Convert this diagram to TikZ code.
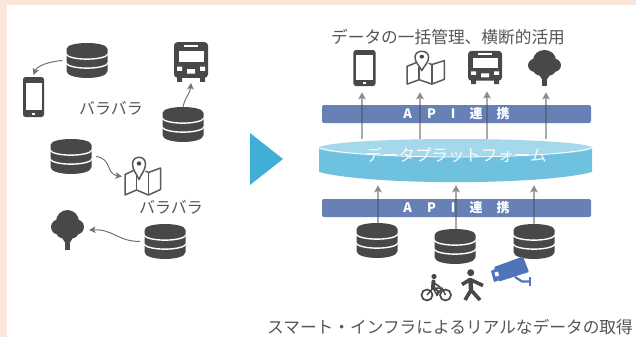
\documentclass[tikz,border=0pt]{standalone}
\usepackage{fontspec}
\setmainfont{Noto Sans CJK JP}
\usetikzlibrary{arrows.meta,calc}
\definecolor{peach}{HTML}{FBE6DA}
\definecolor{ink}{HTML}{484848}
\definecolor{txt}{HTML}{555555}
\definecolor{barblue}{HTML}{6780B5}
\definecolor{camblue}{HTML}{4F74B8}
\definecolor{tri}{HTML}{3FAFD6}
\definecolor{cyl}{HTML}{6FC2DF}
\definecolor{cyltop}{HTML}{A5D8EA}
\tikzset{
  box/.style={inner sep=0,outer sep=0,draw=none},
  caption/.style={inner sep=0,text=txt,font=\fontsize{16.7}{18}\selectfont},
  scatter/.style={inner sep=0,text=txt,font=\fontsize{16}{18}\selectfont},
  apibar/.style={box,fill=barblue,rounded corners=2,minimum width=269,minimum height=18,text=white,font=\fontsize{13}{15}\selectfont\bfseries},
  platlabel/.style={inner sep=0,text=white,opacity=.9,font=\fontsize{16.5}{18}\selectfont},
  flow/.style={draw=black!70,opacity=.48,line width=1.3,-{Stealth[length=7.5,width=8,inset=1.5]}},
  curve/.style={draw=black!55,line width=1,-{Stealth[length=6.5,width=6.5,inset=1.5]}},
  mapline/.style={draw=ink!90,line width=1.5,line join=round,fill=none},
}
\newcommand\DBicon[3]{%
  \node[box,minimum width=41,minimum height=35] (#1) at (#2,{#3+17.5}) {};
  \begin{scope}[shift={(#2,#3)}]
    \fill[ink] (-20.5,6) .. controls (-20.5,-2) and (20.5,-2) .. (20.5,6) -- (20.5,28) .. controls (20.5,37.3) and (-20.5,37.3) .. (-20.5,28) -- cycle;
    \draw[white,line width=1.4] (-21.5,10.5) .. controls (-19,18) and (19,18) .. (21.5,10.5);
    \draw[white,line width=1.4] (-21.5,19.5) .. controls (-19,27) and (19,27) .. (21.5,19.5);
  \end{scope}}
\newcommand\PHONEicon[5]{%
  \node[box,minimum width=#4*21,minimum height=#5*40] (#1) at (#2,#3) {};
  \begin{scope}[shift={(#2,#3)},xscale=#4,yscale=#5]
    \fill[ink,rounded corners=2.5] (-10.5,-20) rectangle (10.5,20);
    \fill[white] (-8,-14.5) rectangle (8,13);
    \fill[white] (-1.5,15.5) rectangle (1.5,18);
  \end{scope}}
\newcommand\BUSicon[5]{%
  \node[box,minimum width=#4*34,minimum height=#5*34] (#1) at (#2,#3) {};
  \begin{scope}[shift={(#2,#3)},xscale=#4,yscale=#5]
    \fill[ink,rounded corners=3.5] (-17,-17) rectangle (17,13.5);
    \fill[ink] (-14,13) rectangle (-9,17) (9,13) rectangle (14,17);
    \fill[white] (-12.5,-9.5) rectangle (12.5,0);
    \fill[white] (-7,-14.5) rectangle (7,-13);
    \fill[white] (-14,4) rectangle (-9,7.5) (9,4) rectangle (14,7.5) (-4,6) rectangle (4,10);
  \end{scope}}
\newcommand\MAPicon[5]{%
  \node[box,minimum width=#4*37,minimum height=#5*39] (#1) at (#2,#3) {};
  \begin{scope}[shift={(#2,#3)},xscale=#4,yscale=#5]
    \draw[mapline] (-9,-6) -- (-17.5,-2) -- (-17.5,18.5) -- (-6,13.5) -- (6,18.5) -- (18,13) -- (18,-8.5) -- (6,-4) -- (3,-5.5);
    \draw[mapline] (-6,-1) -- (-6,13.5) (6,-4) -- (6,18.5);
    \draw[mapline] (-3.5,3) .. controls (-6,-3) and (-10,-6.5) .. (-10,-12.5) .. controls (-10,-21.5) and (3,-21.5) .. (3,-12.5) .. controls (3,-6.5) and (-1,-3) .. (-3.5,3) -- cycle;
    \fill[ink] (-3.5,-13) circle[radius=2.2];
  \end{scope}}
\newcommand\TREEicon[5]{%
  \node[box,minimum width=#4*33,minimum height=#5*40] (#1) at (#2,#3) {};
  \begin{scope}[shift={(#2,#3)},xscale=#4,yscale=#5]
    \fill[ink] (0,-8.5) circle[radius=11.5] (-9,-3) circle[radius=7.5] (9,-3) circle[radius=7.5] (-4,1) circle[radius=7.5] (4,1) circle[radius=7.5];
    \fill[ink] (-2.8,5) -- (2.8,5) -- (2.8,20) -- (-2.8,20) -- cycle;
    \fill[ink] (-7,5) -- (7,5) -- (2.8,12) -- (-2.8,12) -- cycle;
  \end{scope}}
\begin{document}
\begin{tikzpicture}[x=1pt,y=-1pt]
\useasboundingbox (0,0) rectangle (636,337);
\fill[peach] (0,0) rectangle (636,337);
\fill[white] (7,5) rectangle (636,337);

% left side
\DBicon{dba}{87}{43}
\DBicon{dbb}{183}{107}
\DBicon{dbc}{71}{139}
\DBicon{dbd}{165}{224}
\PHONEicon{phonel}{33.5}{97}{1}{1}
\BUSicon{busl}{191}{62}{1}{1.17}
\MAPicon{mapl}{142.5}{176.5}{1}{1}
\TREEicon{treel}{67.5}{230}{1}{1}
\node[scatter] (scattera) at (111,108) {バラバラ};
\node[scatter] (scatterb) at (171,207) {バラバラ};
\draw[curve] ([xshift=-4]dba.west) .. controls +(-14,1) and (37,66) .. ([yshift=2]phonel.north);
\draw[curve] (dbb.north) .. controls +(2,-10) and (190,94) .. ([yshift=-1]busl.south);
\draw[curve] ([xshift=4.5]dbc.east) .. controls +(16,2) and (106,174) .. ([xshift=-2]mapl.west);
\draw[curve] ([xshift=-4.5]dbd.west) .. controls +(-22,0) and (113,229) .. ([xshift=5]treel.east);

% big arrow
\fill[tri] (250,133) -- (283,159) -- (250,185) -- cycle;

% right side
\node[caption] (title) at (448,37) {データの一括管理、横断的活用};
\PHONEicon{phoner}{364.5}{68}{1.05}{.9}
\MAPicon{mapr}{425.5}{68}{1.05}{.87}
\BUSicon{busr}{485}{67.5}{1}{.98}
\TREEicon{treer}{544.5}{68}{1}{.9}

\node[apibar] (apia) at (456.5,114) {A\hspace{15pt}P\hspace{15pt}I\hspace{14pt}連\hspace{14pt}携};
\node[apibar] (apib) at (456.5,208) {A\hspace{15pt}P\hspace{15pt}I\hspace{14pt}連\hspace{14pt}携};

% platform
\node[box,minimum width=273,minimum height=43] (plat) at (455.5,160.5) {};
\fill[cyl] (plat.west |- 0,148) -- (plat.west |- 0,172) .. controls (370,185.5) and (541,185.5) .. (plat.east |- 0,172) -- (plat.east |- 0,148) -- cycle;
\fill[cyltop] (455.5,148) ellipse[x radius=136.5,y radius=9];
\draw[white,line width=.8] (319,148) .. controls (360,160) and (551,160) .. (592,148);
\node[platlabel] (platname) at (456,155) {データプラットフォーム};

% data stores under the bar
\DBicon{dbe}{377}{223}
\DBicon{dbf}{455}{229}
\DBicon{dbg}{534}{224}

% arrows
\draw[flow] ([xshift=-2.5]phoner.south |- plat.north) -- ([xshift=-2.5,yshift=-6]phoner.south);
\draw[flow] ([xshift=-5.5]mapr.south |- plat.north) -- ([xshift=-5.5,yshift=-7]mapr.south);
\draw[flow] ([xshift=2]busr.south |- plat.north) -- ([xshift=2,yshift=-7]busr.south);
\draw[flow] ([xshift=1.5]treer.south |- plat.north) -- ([xshift=1.5,yshift=-6]treer.south);
\draw[flow] ([xshift=1]dbe.north) -- ([xshift=1,yshift=-3]dbe.north |- plat.south);
\draw[flow] ([xshift=1]dbf.north) -- ([xshift=1,yshift=-3]dbf.north |- plat.south);
\draw[flow] (dbg.north) -- ([yshift=-3]dbg.north |- plat.south);

% bicycle
\draw[ink,line width=1.7] (427,295) circle[radius=5.5] (445.5,295) circle[radius=5.5];
\draw[ink,line width=1.5] (427,295) -- (433,288) -- (442,288) -- (445.5,295) (433,288) -- (437,295) -- (442,288);
\fill[ink] (434,276.5) circle[radius=2.6];
\draw[ink,line width=4,line cap=round] (433.5,281.5) -- (433,288);
\draw[ink,line width=1.8,line cap=round] (434,283) -- (440,287) (433,288) -- (438,291) -- (437,295);

% walker
\fill[ink] (470.7,272.7) circle[radius=3.5];
\draw[ink,line width=3.6,line join=round] (462,284.5) -- (470,279.5) -- (483,285.5);
\draw[ink,line width=4.4,line join=round] (470.5,280) -- (471,290);
\draw[ink,line width=3.6,line join=round] (465,300) -- (471,290) -- (480,300);

% camera
\fill[camblue,rounded corners=1] (494,267) -- (523,256.5) -- (529,272) -- (499,281.5) -- cycle;
\fill[camblue] (491,271) -- (495,269) -- (498.5,280.5) -- (494,282) -- cycle;
\fill[white] (494.5,272.5) -- (498,271.5) -- (499,275.5) -- (495.5,276.5) -- cycle;
\draw[camblue,line width=2.2] (515,277) -- (522,281.5) -- (530,281.5);
\draw[camblue,line width=2] (530,277) -- (530,285.5);

\node[caption] (footer) at (450,327) {スマート・インフラによるリアルなデータの取得};
\end{tikzpicture}
\end{document}
